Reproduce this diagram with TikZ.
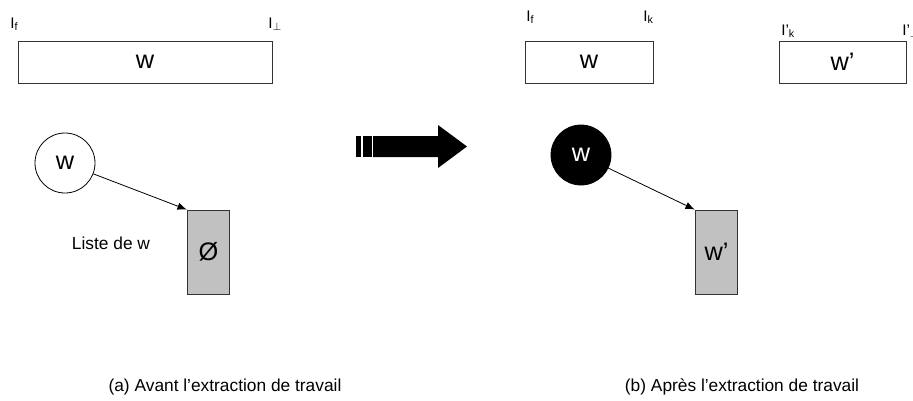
\documentclass[tikz,border=0pt]{standalone}
\usepackage{fontspec}
\setmainfont{Liberation Sans}
\usetikzlibrary{arrows.meta, positioning}

\definecolor{listgrey}{RGB}{192,193,192}

\tikzset{
    wordbox/.style = {draw=black!80, line width=0.6pt, minimum height=31.5pt,
                      font=\fontsize{19}{20}\selectfont, inner sep=0pt},
    listbox/.style = {draw=black!80, fill=listgrey, line width=0.6pt, minimum width=32pt,
                      minimum height=63pt, font=\fontsize{19}{20}\selectfont, inner sep=0pt},
    wordnode/.style = {draw, circle, line width=0.6pt, minimum size=45pt, inner sep=0pt,
                       font=\fontsize{19}{20}\selectfont},
    idx/.style = {anchor=base west, inner sep=0pt, font=\fontsize{11.5}{13}\selectfont},
    caption/.style = {font=\fontsize{13}{15}\selectfont},
    link/.style = {-{Latex[length=7pt,width=5.5pt]}, line width=0.6pt}
}

\begin{document}
\begin{tikzpicture}[x=0.75pt, y=-0.75pt]

            \useasboundingbox (0,0) rectangle (913,400);

            % (a) avant
            \node[wordbox, minimum width=190.5pt] (wa) at (145,62) {w};
            \node[idx] (fa) at (10,28) {I\textsubscript{f}};
            \node[idx] (pa) at (268,28) {I\textsubscript{$\perp$}};

            \node[wordnode] (cwa) at (65,163) {w};
            \node[listbox] (lwa) at (208.5,252) {Ø};
            \node[caption] (lista) at (111,243) {Liste de w};
            \draw[link] (cwa) -- (lwa.north west);

            % fleche
            \fill (373,136) -- (438,136) -- (438,125) -- (467,146.5) -- (438,168) -- (438,157) -- (373,157) -- cycle;
            \foreach \a/\b in {356/361, 362.5/371.5}
            \fill (\a,136) rectangle (\b,157);

            % (b) apres
            \node[wordbox, minimum width=96pt] (wb) at (589,62) {w};
            \node[idx] (fb) at (526,21) {I\textsubscript{f}};
            \node[idx] (kb) at (643,21) {I\textsubscript{k}};

            \node[wordbox, minimum width=95.25pt] (wpb) at (842.5,62) {w’};
            \node[idx] (kpb) at (781,35) {I’\textsubscript{k}};
            \node[idx] (ppb) at (902,35) {I’\textsubscript{$\perp$}};

            \node[wordnode, fill=black, text=white] (cwb) at (581,155) {w};
            \node[listbox] (lwb) at (716.5,252) {w’};
            \draw[link] (cwb) -- (lwb.north west);

            % legendes
            \node[caption] (capa) at (225,387) {(a) Avant l’extraction de travail};
            \node[caption] (capb) at (742,387) {(b) Après l’extraction de travail};
\end{tikzpicture}
\end{document}
